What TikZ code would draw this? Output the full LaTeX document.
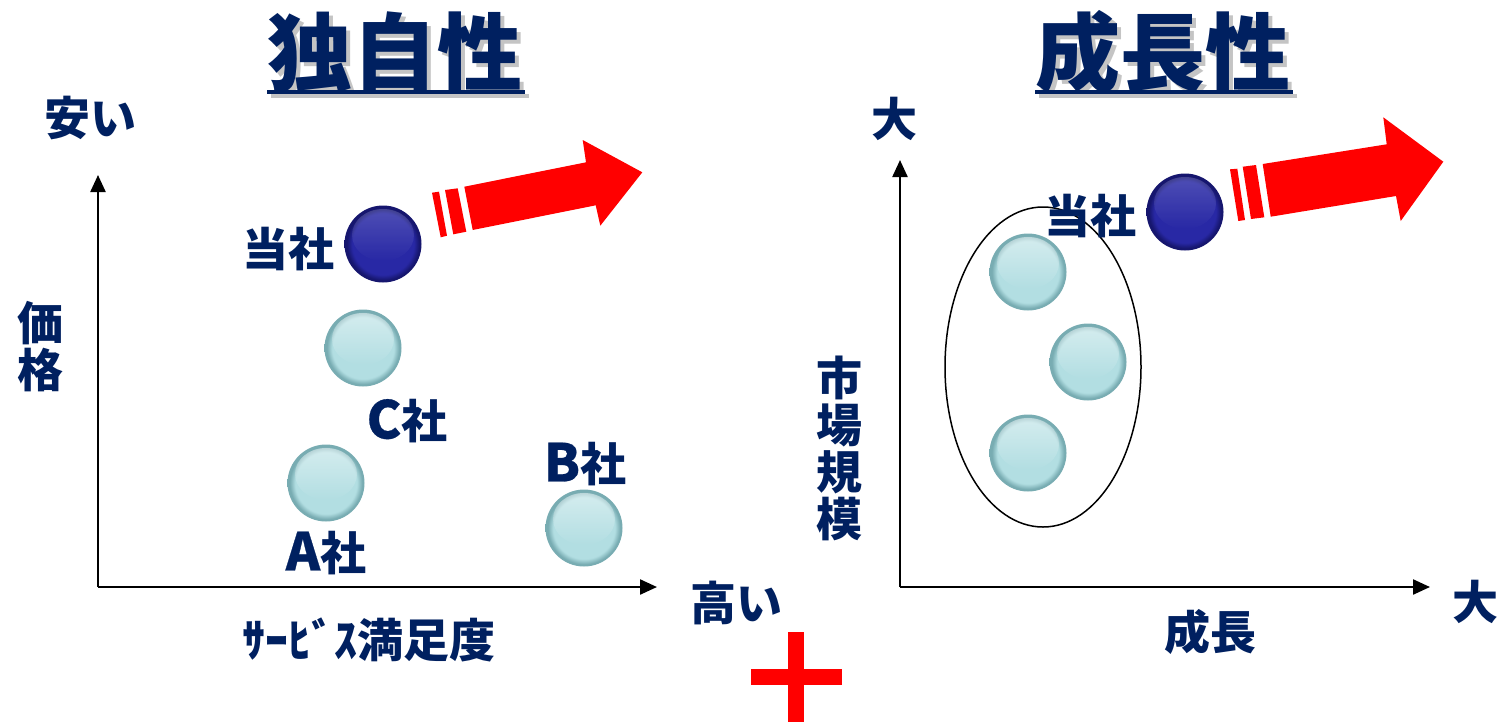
\documentclass[tikz,border=0pt]{standalone}
\usepackage{fontspec}
\setmainfont{Noto Sans CJK JP}
\newfontfamily\latfont[FakeBold=0.5]{Noto Sans CJK JP}
\usetikzlibrary{arrows.meta,shadings,fadings}
\definecolor{navy}{RGB}{0,32,96}
\definecolor{shadowgray}{RGB}{196,196,196}
\definecolor{ballc}{RGB}{178,222,226}
\definecolor{ballrim}{RGB}{120,172,178}
\definecolor{darkc}{RGB}{40,40,165}
\definecolor{darkrim}{RGB}{22,22,110}
\definecolor{arrred}{RGB}{255,0,0}
\pgfdeclareradialshading{lightball}{\pgfpoint{0bp}{0bp}}{color(0bp)=(ballc);color(20bp)=(ballc);color(23.5bp)=(ballrim);color(25bp)=(ballrim);color(50bp)=(ballrim)}
\pgfdeclareradialshading{darkball}{\pgfpoint{0bp}{0bp}}{color(0bp)=(darkc);color(20bp)=(darkc);color(23.5bp)=(darkrim);color(25bp)=(darkrim);color(50bp)=(darkrim)}
\newcommand{\latn}[1]{{\latfont\fontsize{52}{52}\selectfont #1}}
\newcommand{\ballhl}[2]{\fill[white,opacity=#2,path fading=south] ([yshift=9pt]#1.center) ellipse [x radius=31, y radius=26];}
\begin{document}
\begin{tikzpicture}[x=1pt,y=-1pt,
  lbl/.style={text=navy,font=\fontsize{46}{47}\selectfont\bfseries,inner sep=0pt,align=center},
  titletext/.style={font=\fontsize{85}{90}\selectfont\bfseries,inner sep=0pt},
  lball/.style={circle,minimum size=77pt,inner sep=0pt,shade,shading=lightball},
  dball/.style={circle,minimum size=77pt,inner sep=0pt,shade,shading=darkball},
  axis/.style={line width=2.3pt,-{Triangle[length=17pt,width=15pt]}},
  redshape/.style={fill=arrred,draw=none}]
\useasboundingbox (0,0) rectangle (1499,724);

% ---------- titles ----------
\node[titletext,text=shadowgray] (t1s) at (399,56) {独自性};
\fill[shadowgray] (271,94) rectangle (529,98);
\node[titletext,text=navy] (t1) at (395,52) {独自性};
\fill[navy] (267,90) rectangle (525,94);

\node[titletext,text=shadowgray] (t2s) at (1167,56) {成長性};
\fill[shadowgray] (1039,94) rectangle (1297,98);
\node[titletext,text=navy] (t2) at (1163,52) {成長性};
\fill[navy] (1035,90) rectangle (1293,94);

% ---------- left chart ----------
\coordinate (o1) at (98,587);
\coordinate (y1) at (98,175);
\coordinate (x1) at (657,587);
\draw[axis] (o1) -- (y1);
\draw[axis] (o1) -- (x1);

\node[lbl] (yasui) at (90,118) {安い};
\node[lbl] (kakaku) at (40,347) {価\\格};
\node[lbl] (takai) at (736,603) {高い};
\node[lbl] (service) at (369,640) {ｻｰﾋﾞｽ満足度};

\node[dball] (us1) at (383,244) {};
\ballhl{us1}{0.18}
\node[lbl] (us1l) at (288,249) {当社};
\node[lball] (cball) at (363,348) {};
\ballhl{cball}{0.45}
\node[lbl] (cl) at (407,421) {\latn{C}社};
\node[lball] (aball) at (326,483) {};
\ballhl{aball}{0.45}
\node[lbl] (al) at (326,553) {\latn{A}社};
\node[lball] (bball) at (584,528) {};
\ballhl{bball}{0.45}
\node[lbl] (bl) at (585,464) {\latn{B}社};

% red arrow left
\fill[redshape] (432,192.7) -- (439,191.7) -- (447,235.7) -- (440.7,237.3) -- cycle;
\fill[redshape] (445,190) -- (457.7,188.3) -- (466.3,231.7) -- (453.3,234.3) -- cycle;
\fill[redshape] (464.3,186.7) -- (586,162.3) -- (582.7,140) -- (642.3,172.3)
  -- (600.3,225.7) -- (595.7,205.3) -- (472.7,230) -- cycle;

% ---------- right chart ----------
\coordinate (o2) at (900,587);
\coordinate (y2) at (900,160);
\coordinate (x2) at (1430,587);
\draw[axis] (o2) -- (y2);
\draw[axis] (o2) -- (x2);

\node[lbl] (dai1) at (894,119) {大};
\node[lbl] (shijo) at (839,448) {市\\場\\規\\模};
\node[lbl] (seicho) at (1210,632) {成長};
\node[lbl] (dai2) at (1475,602) {大};

\draw[line width=1.5pt] (1043,367) ellipse [x radius=98, y radius=160];
\node[lball] (r1) at (1028,272) {};
\ballhl{r1}{0.45}
\node[lball] (r2) at (1088,362) {};
\ballhl{r2}{0.45}
\node[lball] (r3) at (1028,453) {};
\ballhl{r3}{0.45}

\node[dball] (us2) at (1185,212) {};
\ballhl{us2}{0.18}
\node[lbl] (us2l) at (1090,216) {当社};

% red arrow right
\fill[redshape] (1230,169.3) -- (1237.3,168.7) -- (1245,220) -- (1238.3,221) -- cycle;
\fill[redshape] (1242.7,166.7) -- (1256,165) -- (1264.3,217.3) -- (1251,219) -- cycle;
\fill[redshape] (1262.7,164) -- (1386.7,144.3) -- (1383.3,117.3) -- (1443.3,161.7)
  -- (1400.7,221) -- (1396,196) -- (1270.7,216.7) -- cycle;

% ---------- plus ----------
\fill[redshape] (788.3,632.3) rectangle (804,722.3);
\fill[redshape] (751,669.3) rectangle (841.7,685);
\end{tikzpicture}
\end{document}
